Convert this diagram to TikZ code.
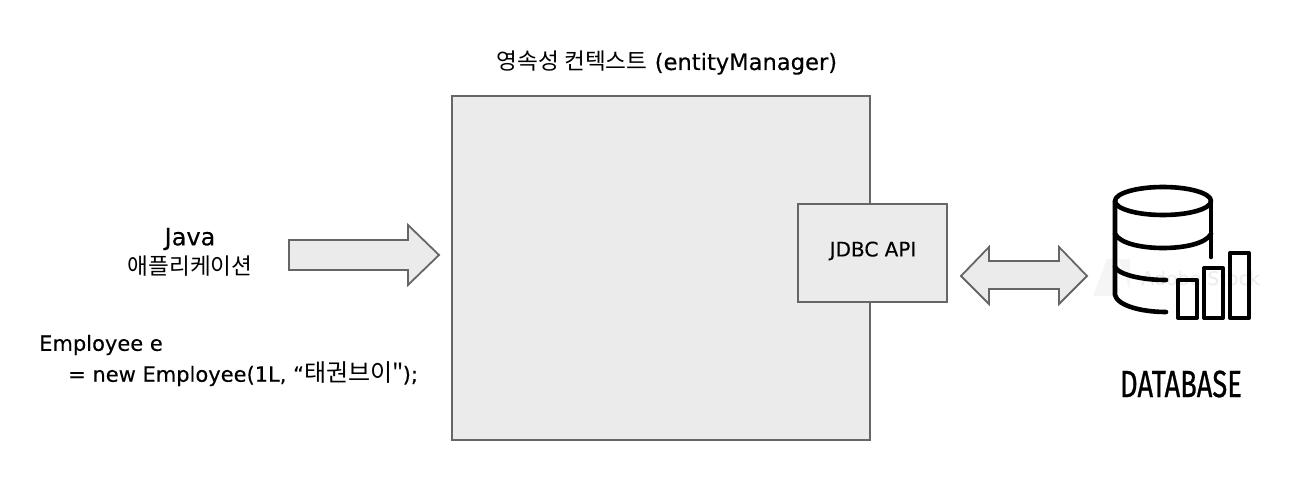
\documentclass[tikz,border=0pt]{standalone}
\usepackage{fontspec}
\setmainfont{DejaVu Sans}[FakeBold=0.3]
\newfontfamily\cjk{Noto Sans CJK KR}
\newfontfamily\dbfont{Fira Sans}[FakeBold=0.8]
\definecolor{boxfill}{HTML}{EBEBEB}
\definecolor{boxline}{HTML}{666666}
\tikzset{
  panel/.style={draw=boxline,fill=boxfill,line width=1.8pt},
  label/.style={inner sep=0pt,text=black},
  icon/.style={line width=4.6pt,line cap=round,line join=round,draw=black}
}

\begin{document}
\begin{tikzpicture}[x=1pt,y=-1pt]
   \useasboundingbox (0,0) rectangle (1290,500);

   % boxes
   \draw[panel] (452,96) rectangle (870,440);
   \draw[panel] (798,204) rectangle (947,302);

   % arrows
   \draw[panel] (289,240) -- (408,240) -- (408,225) -- (439,255) -- (408,285) -- (408,270) -- (289,270) -- cycle;
   \draw[panel] (961,276) -- (989,247) -- (989,261) -- (1059,261) -- (1059,247) -- (1087,276) -- (1059,304) -- (1059,289) -- (989,289) -- (989,304) -- cycle;

   % watermark
   \fill[black!4] (1093,296) -- (1107,259) -- (1113,259) -- (1113,296) -- cycle;
   \fill[black!4] (1118,259) -- (1130,259) -- (1130,290) -- cycle;
   \node[label,text=black!7,font=\fontsize{19}{19}\selectfont,anchor=west] (stock) at (1141,278) {Adobe Stock};

   % database
   \draw[icon] (1163,201) ellipse [x radius=48,y radius=14];
   \draw[icon] (1115,201) -- (1115,295) .. controls (1117,305) and (1140,312) .. (1166,312);
   \draw[icon] (1211,201) -- (1211,257);
   \draw[icon] (1115,234) .. controls (1120,243) and (1140,248) .. (1163,248) .. controls (1186,248) and (1206,243) .. (1211,234);
   \draw[icon] (1115,267) .. controls (1118,274) and (1140,280) .. (1166,280);
   \draw[icon,line width=4pt] (1178,280) rectangle (1197,318);
   \draw[icon,line width=4pt] (1204,268) rectangle (1223,318);
   \draw[icon,line width=4pt] (1230,253) rectangle (1249,318);

   % texts
   \node[label,font=\fontsize{22.6}{22.6}\selectfont] (title) at (667,63) {{\cjk\fontsize{22.6}{22.6}\selectfont 영속성 컨텍스트} (entityManager)};
   \node[label,font=\fontsize{24}{24}\selectfont] (java) at (190,239) {Java};
   \node[label,font=\cjk\fontsize{22.6}{22.6}\selectfont] (app) at (190,266) {애플리케이션};
   \node[label,font=\fontsize{21}{21}\selectfont,anchor=west] (empa) at (39,345) {Employee e};
   \node[label,font=\fontsize{21}{21}\selectfont,anchor=west] (empb) at (68,374) {= new Employee(1L, “{\cjk\fontsize{24}{24}\selectfont 태권브이"}\kern-1pt);};
   \node[label,font=\fontsize{20}{20}\selectfont] (jdbc) at (873,251) {JDBC API};
   \node[label,font=\dbfont\fontsize{38}{38}\selectfont,xscale=0.72] (dbname) at (1181,384) {DATABASE};
  \end{tikzpicture}
\end{document}
